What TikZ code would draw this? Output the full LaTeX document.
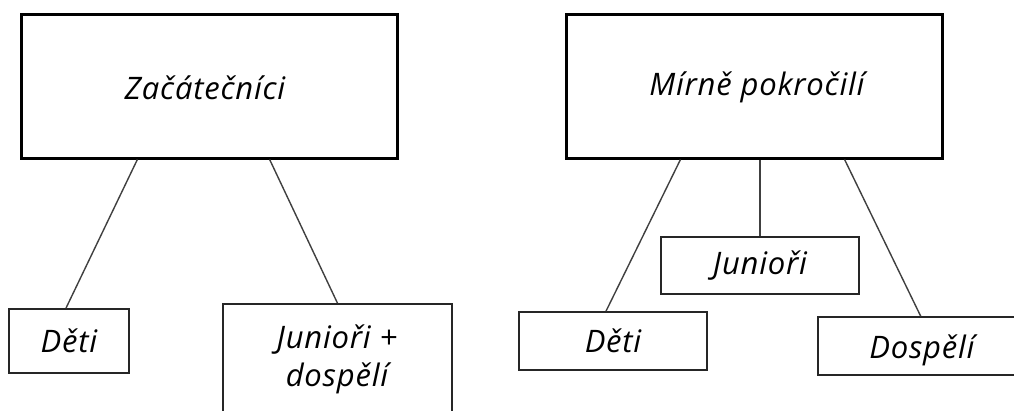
\documentclass[tikz,border=0pt]{standalone}
\usepackage{fontspec}
\setmainfont{Open Sans}[LetterSpace=2.5]
\usetikzlibrary{calc}
\begin{document}
\begin{tikzpicture}[x=1pt,y=-1pt,
  bigbox/.style={draw=black,line width=3pt,minimum width=376pt,minimum height=144pt,inner sep=0pt},
  lbl/.style={inner sep=0pt,font=\fontsize{31}{38}\selectfont\itshape},
  smallbox/.style={draw=black!85,line width=1.6pt,inner sep=0pt,font=\fontsize{31}{38}\selectfont\itshape},
  link/.style={draw=black!75,line width=1.4pt}]
\useasboundingbox[fill=white] (0,0) rectangle (1014,410);
\node[bigbox] (zl) at (209,86) {};
\node[lbl] (tzl) at (205,88) {Začátečníci};
\node[bigbox] (zr) at (754,86) {};
\node[lbl] (tzr) at (757,87) {Mírně pokročilí};
\node[smallbox,minimum width=120pt,minimum height=64pt] (dl) at (69,341) {Děti};
\node[smallbox,minimum width=229pt,minimum height=120pt] (jd) at (337.5,364) {};
\node[lbl,align=center] (tjd) at (337,359) {Junioři +\\dospělí};
\node[smallbox,minimum width=198pt,minimum height=57pt] (jr) at (760,265.5) {Junioři};
\node[smallbox,minimum width=188pt,minimum height=58pt] (dr) at (613,341) {Děti};
\node[smallbox,minimum width=214pt,minimum height=58pt] (sr) at (925,346) {};
\node[lbl] (tsr) at (922,350) {Dospělí};
\draw[link] ($(zl.south west)!0.311!(zl.south east)$) -- ($(dl.north west)!0.475!(dl.north east)$);
\draw[link] ($(zl.south west)!0.66!(zl.south east)$) -- (jd.north);
\draw[link] ($(zr.south west)!0.306!(zr.south east)$) -- ($(dr.north west)!0.463!(dr.north east)$);
\draw[link] (jr.north) -- (jr.north |- zr.south);
\draw[link] ($(zr.south west)!0.739!(zr.south east)$) -- ($(sr.north west)!0.48!(sr.north east)$);
\end{tikzpicture}
\end{document}
